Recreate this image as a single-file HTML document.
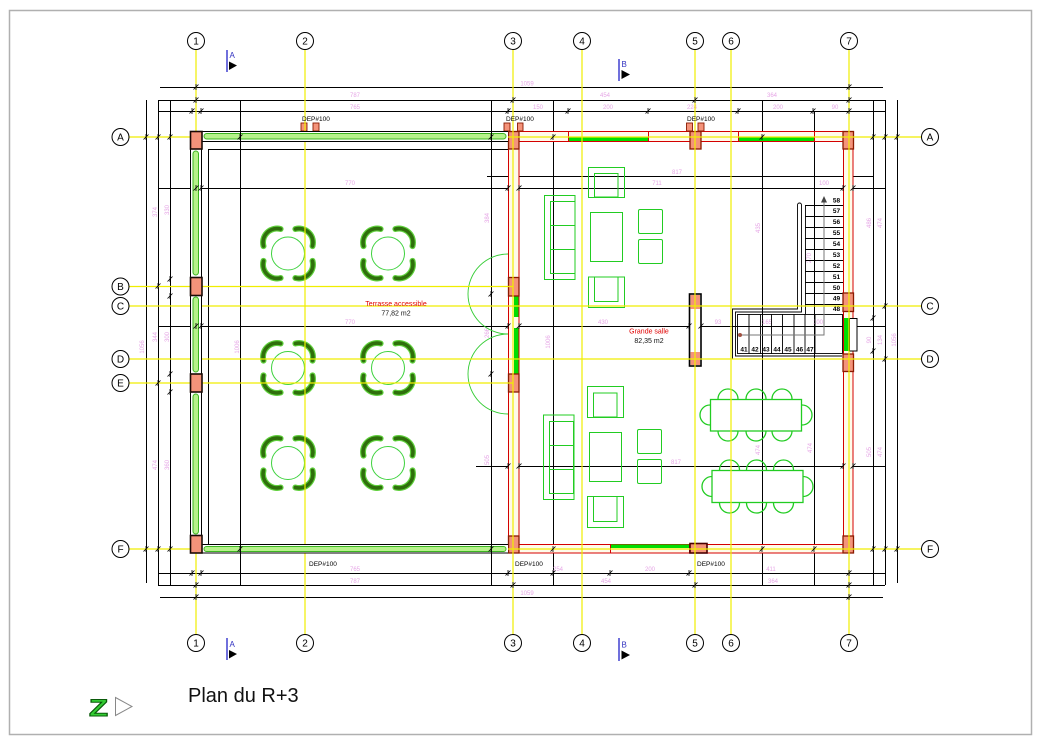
<!DOCTYPE html>
<html><head><meta charset="utf-8">
<style>
html,body{margin:0;padding:0;background:#fff;}
svg{display:block;}
</style></head><body>
<svg width="1037" height="746" viewBox="0 0 1037 746" xmlns="http://www.w3.org/2000/svg" font-family="'Liberation Sans', sans-serif">
<defs>
<g id="rt">
<circle r="16.5" fill="none" stroke="#3ed23e" stroke-width="1"/>
<path d="M-24.5,-7.4 A14,14 0 0 1 -7.4,-24.5 M7.4,-24.5 A14,14 0 0 1 24.5,-7.4 M24.5,7.4 A14,14 0 0 1 7.4,24.5 M-7.4,24.5 A14,14 0 0 1 -24.5,7.4" fill="none" stroke="#5fd03c" stroke-width="6" stroke-linecap="round"/>
<path d="M-24.5,-7.4 A14,14 0 0 1 -7.4,-24.5 M7.4,-24.5 A14,14 0 0 1 24.5,-7.4 M24.5,7.4 A14,14 0 0 1 7.4,24.5 M-7.4,24.5 A14,14 0 0 1 -24.5,7.4" fill="none" stroke="#2f6f0c" stroke-width="3.6" stroke-linecap="round"/>
</g>
<path id="tk" d="M-2.5,2.5 L2.5,-2.5 M0,-3 V3" stroke="#000" stroke-width="0.8" fill="none"/>
</defs>
<rect x="0" y="0" width="1037" height="746" fill="#fff"/>
<rect x="9.5" y="10.5" width="1022" height="724" fill="none" stroke="#b0b0b0" stroke-width="1.5"/>

<!-- black structure / dimension lines -->
<g stroke="#000" stroke-width="1" fill="none">
<path d="M160 87.5 H883 M158 100.5 H885 M158 111.5 H885 M158 188.5 H885 M487 176.5 H874 M158 326.5 H885 M476 466.5 H885 M158 573.5 H885 M158 585.5 H885 M160 597.5 H883"/>
<path d="M146.5 100 V583 M158.5 100 V585 M170.5 100 V585 M240.5 100 V585 M491.5 100 V585 M553.5 100 V585 M762.5 100 V585 M814.5 111 V585 M873.5 100 V585 M885.5 100 V585 M897.5 100 V583"/>
<path d="M208.5 149 V545 M208 149.5 H508"/>
</g>

<!-- pink dimension texts -->
<g fill="#e6a6e6" font-size="6" text-anchor="middle">
<text x="527" y="85.5">1059</text><text x="355" y="97">787</text><text x="355" y="109">765</text>
<text x="538" y="109">150</text><text x="605" y="97">454</text><text x="772" y="97">364</text>
<text x="608" y="109">200</text><text x="692" y="109">224</text><text x="778" y="109">200</text><text x="835" y="109">90</text>
<text x="527" y="595">1059</text><text x="355" y="583">787</text><text x="355" y="571">765</text>
<text x="558" y="571">254</text><text x="606" y="583">454</text><text x="650" y="571">200</text><text x="771" y="571">411</text><text x="773" y="583">364</text>
<text x="677" y="174">817</text><text x="657" y="185">711</text><text x="350" y="185">770</text><text x="824" y="185">100</text>
<text x="350" y="324">770</text><text x="603" y="324">430</text><text x="695" y="324">29</text><text x="718" y="324">93</text>
<text x="767" y="324">165</text><text x="818" y="324">100</text><text x="676" y="464">817</text>
<g transform="rotate(-90)">
<text x="-212" y="157">374</text><text x="-210" y="169">330</text><text x="-347" y="144">1056</text>
<text x="-337" y="157">344</text><text x="-337" y="169">300</text><text x="-465" y="157">474</text><text x="-465" y="169">360</text>
<text x="-347" y="239">1006</text><text x="-218" y="489">384</text><text x="-333" y="489">266</text><text x="-342" y="550">1006</text>
<text x="-228" y="760">435</text><text x="-223" y="871">486</text><text x="-223" y="882">474</text>
<text x="-340" y="896">1056</text><text x="-340" y="871">90</text><text x="-340" y="882">134</text>
<text x="-452" y="871">505</text><text x="-452" y="882">474</text><text x="-448" y="812">474</text><text x="-450" y="760">474</text>
<text x="-460" y="489">505</text><text x="-258" y="811">270</text>
</g>
</g>

<!-- terrace round tables -->
<use href="#rt" x="288" y="253.5"/><use href="#rt" x="388" y="253.5"/>
<use href="#rt" x="288" y="368"/><use href="#rt" x="388" y="368"/>
<use href="#rt" x="288" y="463"/><use href="#rt" x="388" y="463"/>

<!-- door swings -->
<path d="M508 254 A40 40 0 0 0 508 334 M508 334 A40 40 0 0 0 508 414" fill="none" stroke="#33cc33" stroke-width="0.9"/>

<!-- lounge furniture -->
<g fill="none" stroke="#22cc22" stroke-width="1">
<rect x="544.5" y="195.5" width="30.5" height="84"/>
<rect x="550.5" y="201.5" width="24.5" height="72"/>
<path d="M550.5 225.5 H575 M550.5 249.5 H575"/>
<rect x="588.5" y="167.5" width="36" height="30"/>
<rect x="594.5" y="173.5" width="23.5" height="23.5"/>
<rect x="590.5" y="212.5" width="32" height="49"/>
<rect x="638.5" y="209.5" width="24" height="24" rx="1.5"/>
<rect x="638.5" y="239.5" width="24" height="24" rx="1.5"/>
<rect x="588.5" y="277" width="36" height="30.5"/>
<rect x="594.5" y="277" width="23.5" height="24.5"/>

<rect x="587.5" y="386.5" width="36" height="31"/>
<rect x="593.5" y="393" width="23.5" height="24"/>
<rect x="543.5" y="415" width="30.5" height="84.5"/>
<rect x="549.5" y="421.5" width="24" height="72"/>
<path d="M549.5 445.5 H574 M549.5 469.5 H574"/>
<rect x="589.5" y="432.5" width="32" height="49"/>
<rect x="637.5" y="429.5" width="24" height="24" rx="1.5"/>
<rect x="637.5" y="459.5" width="24" height="24" rx="1.5"/>
<rect x="587.5" y="496.5" width="36" height="31"/>
<rect x="593.5" y="496.5" width="23.5" height="25"/>
</g>

<!-- dining tables -->
<g fill="none" stroke="#22cc22" stroke-width="1.3">
<rect x="710.5" y="399.5" width="91" height="31.5"/>
<path d="M718 399 A10 10 0 0 1 738 399 M746 399 A10 10 0 0 1 766 399 M772 399 A10 10 0 0 1 792 399"/>
<path d="M738 431 A10 10 0 0 1 718 431 M766 431 A10 10 0 0 1 746 431 M792 431 A10 10 0 0 1 772 431"/>
<path d="M710 405 A10 10 0 0 0 710 425 M802 405 A10 10 0 0 1 802 425"/>
<rect x="712" y="470.5" width="91" height="32"/>
<path d="M719.5 470 A10 10 0 0 1 739.5 470 M746.5 470 A10 10 0 0 1 766.5 470 M773.5 470 A10 10 0 0 1 793.5 470"/>
<path d="M739.5 503 A10 10 0 0 1 719.5 503 M766.5 503 A10 10 0 0 1 746.5 503 M793.5 503 A10 10 0 0 1 773.5 503"/>
<path d="M712 476.5 A10 10 0 0 0 712 496.5 M803 476.5 A10 10 0 0 1 803 496.5"/>
</g>

<!-- stair -->
<g fill="none" stroke="#000" stroke-width="0.9">
<path d="M797.5 205 V309 H732.5 V359 H842"/>
<path d="M801.5 205 V312 H735.5 V356 H842"/>
<path d="M797.5 205 A2 2 0 0 1 801.5 205"/>
<rect x="737.5" y="314.5" width="105" height="39"/>
<path d="M805.5 205 V314"/>
<path d="M805 205.5 H843 M805 216.5 H843 M805 227.5 H843 M805 238.5 H843 M805 249.5 H843 M805 260.5 H843 M805 271.5 H843 M805 282.5 H843 M805 293.5 H843 M805 304.5 H843"/>
<path d="M749 314 V354 M760.5 314 V354 M771.5 314 V354 M782.5 314 V354 M794 314 V354 M805 314 V354 M815 314 V354"/>
</g>
<path d="M740 335 H824 V201" fill="none" stroke="#777" stroke-width="1"/>
<polygon points="824,196 821,202.5 827,202.5" fill="#444"/>
<circle cx="740" cy="335" r="2" fill="#a05040"/>
<g font-size="6.5" font-weight="bold" fill="#000" text-anchor="middle">
<text x="836.5" y="202.5">58</text><text x="836.5" y="213">57</text><text x="836.5" y="224">56</text>
<text x="836.5" y="235">55</text><text x="836.5" y="246">54</text><text x="836.5" y="257">53</text>
<text x="836.5" y="268">52</text><text x="836.5" y="279">51</text><text x="836.5" y="290">50</text>
<text x="836.5" y="300.5">49</text><text x="836.5" y="311">48</text>
<text x="744" y="351.5">41</text><text x="755" y="351.5">42</text><text x="766" y="351.5">43</text>
<text x="777" y="351.5">44</text><text x="788" y="351.5">45</text><text x="799.5" y="351.5">46</text><text x="810" y="351.5">47</text>
</g>

<!-- red walls -->
<g fill="#fffbea" stroke="#d40000" stroke-width="1">
<rect x="508.5" y="131.5" width="10.5" height="421.5"/>
<rect x="519" y="131.5" width="324" height="10"/>
<rect x="519" y="544.5" width="324" height="8.5"/>
<rect x="843.5" y="131.5" width="9.5" height="421.5"/>
</g>
<g stroke="#d40000" stroke-width="1">
<path d="M568.5 131 V142 M648.5 131 V142 M738.5 131 V142 M814.5 131 V142 M610.5 544 V553 M689.5 544 V553"/>
</g>
<g fill="#00dd00">
<rect x="569" y="136.5" width="79" height="4.5"/>
<rect x="739" y="136.5" width="75" height="4.5"/>
<rect x="611" y="544.5" width="78" height="3.5"/>
<rect x="514" y="296" width="4.5" height="21"/>
<rect x="514" y="328" width="4.5" height="46"/>
<rect x="844" y="318" width="4.5" height="33"/>
</g>
<rect x="849.5" y="318.5" width="7.5" height="32.5" fill="#fff" stroke="#000" stroke-width="1"/>

<!-- columns col 3/5/7 -->
<g fill="#f4937a" stroke="#8b1a00" stroke-width="1.3">
<rect x="508.5" y="131.5" width="10.5" height="17.5"/>
<rect x="508.5" y="277.5" width="10.5" height="18.5"/>
<rect x="508.5" y="374" width="10.5" height="18"/>
<rect x="508.5" y="536" width="10.5" height="17"/>
<rect x="690" y="131.5" width="11" height="17.5"/>
<rect x="690" y="543.5" width="17" height="9.5" stroke="#4a0000" stroke-width="1.6"/>
<rect x="843" y="131.5" width="10.5" height="17.5"/>
<rect x="843" y="293" width="10.5" height="18.5"/>
<rect x="843" y="354" width="10.5" height="17.5"/>
<rect x="843" y="536" width="10.5" height="17"/>
</g>
<rect x="689.5" y="294" width="11.5" height="72" fill="#fff" stroke="#000" stroke-width="1.6"/>
<rect x="690.5" y="295" width="9.5" height="14" fill="#f4937a"/>
<rect x="690.5" y="352" width="9.5" height="13" fill="#f4937a"/>

<!-- DEP pipes -->
<g fill="#f4937a" stroke="#8b1a00" stroke-width="0.9">
<rect x="301" y="123" width="6" height="8"/><rect x="313" y="123" width="6" height="8"/>
<rect x="504" y="123" width="6" height="8"/><rect x="517.5" y="123" width="5.5" height="8"/>
<rect x="686.5" y="123" width="6" height="8"/><rect x="698" y="123" width="6" height="8"/>
</g>

<!-- yellow grid lines -->
<g stroke="#f0ee00" stroke-width="1.2" fill="none">
<path d="M196 49.5 V634.5 M305 49.5 V634.5 M513 49.5 V634.5 M582 49.5 V634.5 M695 49.5 V634.5 M731 49.5 V634.5 M849 49.5 V634.5"/>
<path d="M129 137 H921 M129 286.5 H513 M129 306 H921 M129 359 H921 M129 383 H513 M129 549 H921"/>
</g>

<!-- left (terrace) wall -->
<rect x="190.5" y="131.5" width="11" height="421.5" fill="#fff" stroke="#000" stroke-width="1"/>
<rect x="202.5" y="132" width="305.5" height="9" fill="#fff"/>
<rect x="202.5" y="545" width="305.5" height="7.5" fill="#fff"/>
<path d="M202 131.5 H508 M202 141.5 H508 M202 544.5 H508 M202 553 H508" fill="none" stroke="#000" stroke-width="1"/>
<g fill="#b6f28a" stroke="#3cb521" stroke-width="1">
<rect x="193" y="151" width="5.5" height="124" rx="2.75"/>
<rect x="193" y="297" width="5.5" height="75" rx="2.75"/>
<rect x="193" y="394" width="5.5" height="140" rx="2.75"/>
<rect x="204" y="133.5" width="302" height="5.5" rx="2.75"/>
<rect x="204" y="546.5" width="302" height="5" rx="2.5"/>
</g>
<path d="M240.5 131 V142 M491.5 131 V142 M240.5 544 V553 M491.5 544 V553" stroke="#000" stroke-width="1"/>
<g fill="#f4937a" stroke="#1a0a05" stroke-width="1.6">
<rect x="190.5" y="131.5" width="11.5" height="17.5"/>
<rect x="190.5" y="277.5" width="11.5" height="18"/>
<rect x="190.5" y="374" width="11.5" height="18"/>
<rect x="190.5" y="535.5" width="11.5" height="17.5"/>
</g>

<!-- ticks -->
<g>
<use href="#tk" x="146" y="137"/><use href="#tk" x="158" y="137"/><use href="#tk" x="170" y="137"/>
<use href="#tk" x="158" y="286"/><use href="#tk" x="170" y="279"/><use href="#tk" x="170" y="296"/>
<use href="#tk" x="158" y="383"/><use href="#tk" x="170" y="374"/><use href="#tk" x="170" y="392"/>
<use href="#tk" x="146" y="549"/><use href="#tk" x="158" y="549"/><use href="#tk" x="170" y="549"/>
<use href="#tk" x="873" y="137"/><use href="#tk" x="885" y="137"/><use href="#tk" x="897" y="137"/>
<use href="#tk" x="885" y="306"/><use href="#tk" x="873" y="318"/><use href="#tk" x="873" y="351"/><use href="#tk" x="885" y="359"/>
<use href="#tk" x="873" y="549"/><use href="#tk" x="885" y="549"/><use href="#tk" x="897" y="549"/>
<use href="#tk" x="196" y="87"/><use href="#tk" x="196" y="100"/><use href="#tk" x="192" y="111"/><use href="#tk" x="201" y="111"/>
<use href="#tk" x="513" y="100"/><use href="#tk" x="508" y="111"/><use href="#tk" x="568" y="111"/><use href="#tk" x="648" y="111"/>
<use href="#tk" x="695" y="100"/><use href="#tk" x="738" y="111"/><use href="#tk" x="813" y="111"/>
<use href="#tk" x="849" y="87"/><use href="#tk" x="849" y="100"/><use href="#tk" x="849" y="111"/>
<use href="#tk" x="192" y="573"/><use href="#tk" x="201" y="573"/><use href="#tk" x="196" y="585"/><use href="#tk" x="196" y="597"/>
<use href="#tk" x="513" y="585"/><use href="#tk" x="508" y="573"/><use href="#tk" x="553" y="573"/><use href="#tk" x="610" y="573"/>
<use href="#tk" x="689" y="573"/><use href="#tk" x="695" y="585"/><use href="#tk" x="849" y="573"/><use href="#tk" x="849" y="585"/><use href="#tk" x="849" y="597"/>
<use href="#tk" x="196" y="188"/><use href="#tk" x="201" y="188"/><use href="#tk" x="196" y="326"/><use href="#tk" x="201" y="326"/>
<use href="#tk" x="508" y="188"/><use href="#tk" x="519" y="188"/><use href="#tk" x="508" y="326"/><use href="#tk" x="519" y="326"/>
<use href="#tk" x="508" y="466"/><use href="#tk" x="519" y="466"/><use href="#tk" x="843" y="466"/><use href="#tk" x="853" y="466"/>
<use href="#tk" x="843" y="188"/><use href="#tk" x="853" y="188"/><use href="#tk" x="491" y="294"/><use href="#tk" x="491" y="374"/>
<use href="#tk" x="240" y="137"/><use href="#tk" x="240" y="549"/><use href="#tk" x="491" y="137"/><use href="#tk" x="491" y="549"/>
<use href="#tk" x="553" y="137"/><use href="#tk" x="553" y="549"/><use href="#tk" x="762" y="137"/><use href="#tk" x="762" y="549"/>
<use href="#tk" x="814" y="549"/><use href="#tk" x="689" y="326"/><use href="#tk" x="701" y="326"/>
</g>

<!-- DEP labels -->
<g font-size="6.5" fill="#000">
<text x="302" y="121">DEP#100</text><text x="506" y="121">DEP#100</text><text x="687" y="121">DEP#100</text>
<text x="309" y="566">DEP#100</text><text x="515" y="566">DEP#100</text><text x="697" y="566">DEP#100</text>
</g>

<!-- room labels -->
<g font-size="7" text-anchor="middle">
<text x="396" y="306" fill="#e00000">Terrasse accessible</text>
<text x="396" y="315.5" fill="#111">77,82 m2</text>
<text x="649" y="333.5" fill="#e00000">Grande salle</text>
<text x="649" y="343" fill="#111">82,35 m2</text>
</g>

<!-- grid bubbles -->
<g fill="#fff" stroke="#000" stroke-width="1">
<circle cx="196" cy="41" r="8.5"/><circle cx="305" cy="41" r="8.5"/><circle cx="513" cy="41" r="8.5"/><circle cx="582" cy="41" r="8.5"/>
<circle cx="695" cy="41" r="8.5"/><circle cx="731" cy="41" r="8.5"/><circle cx="849" cy="41" r="8.5"/>
<circle cx="196" cy="643" r="8.5"/><circle cx="305" cy="643" r="8.5"/><circle cx="513" cy="643" r="8.5"/><circle cx="582" cy="643" r="8.5"/>
<circle cx="695" cy="643" r="8.5"/><circle cx="731" cy="643" r="8.5"/><circle cx="849" cy="643" r="8.5"/>
<circle cx="120.5" cy="137" r="8.5"/><circle cx="120.5" cy="286.5" r="8.5"/><circle cx="120.5" cy="306" r="8.5"/>
<circle cx="120.5" cy="359" r="8.5"/><circle cx="120.5" cy="383" r="8.5"/><circle cx="120.5" cy="549" r="8.5"/>
<circle cx="930" cy="137" r="8.5"/><circle cx="930" cy="306" r="8.5"/><circle cx="930" cy="359" r="8.5"/><circle cx="930" cy="549" r="8.5"/>
</g>
<g font-family="'Liberation Sans Narrow','Liberation Sans',sans-serif" font-size="10" fill="#000" text-anchor="middle">
<text x="196" y="44.5">1</text><text x="305" y="44.5">2</text><text x="513" y="44.5">3</text><text x="582" y="44.5">4</text>
<text x="695" y="44.5">5</text><text x="731" y="44.5">6</text><text x="849" y="44.5">7</text>
<text x="196" y="646.5">1</text><text x="305" y="646.5">2</text><text x="513" y="646.5">3</text><text x="582" y="646.5">4</text>
<text x="695" y="646.5">5</text><text x="731" y="646.5">6</text><text x="849" y="646.5">7</text>
<text x="120.5" y="140.5">A</text><text x="120.5" y="290">B</text><text x="120.5" y="309.5">C</text>
<text x="120.5" y="362.5">D</text><text x="120.5" y="386.5">E</text><text x="120.5" y="552.5">F</text>
<text x="930" y="140.5">A</text><text x="930" y="309.5">C</text><text x="930" y="362.5">D</text><text x="930" y="552.5">F</text>
</g>

<!-- section markers -->
<g>
<path d="M227 50 V72 M227 638 V660 M619 59 V81 M619 638 V661" stroke="#4040d0" stroke-width="1.5"/>
<polygon points="229,61.5 237,65.5 229,70" fill="#000"/>
<polygon points="229,650 237,654 229,658.5" fill="#000"/>
<polygon points="621.5,70 630,74.5 621.5,79" fill="#000"/>
<polygon points="621.5,650.5 630,655 621.5,659.5" fill="#000"/>
<g font-size="8" fill="#3030c0">
<text x="229.5" y="58">A</text><text x="229.5" y="647">A</text>
<text x="621.5" y="67">B</text><text x="621.5" y="647.5">B</text>
</g>
</g>

<!-- north sign & title -->
<text x="89" y="716" font-size="26" font-weight="bold" fill="#33cc33" stroke="#0a5a0a" stroke-width="1.1" transform="translate(89 716) scale(1.2 0.92) translate(-89 -716)">Z</text>
<polygon points="115.5,697.5 132,706.5 115.5,715.5" fill="#fff" stroke="#888" stroke-width="1"/>
<text x="188" y="702" font-size="20" fill="#111">Plan du R+3</text>
</svg>
</body></html>
